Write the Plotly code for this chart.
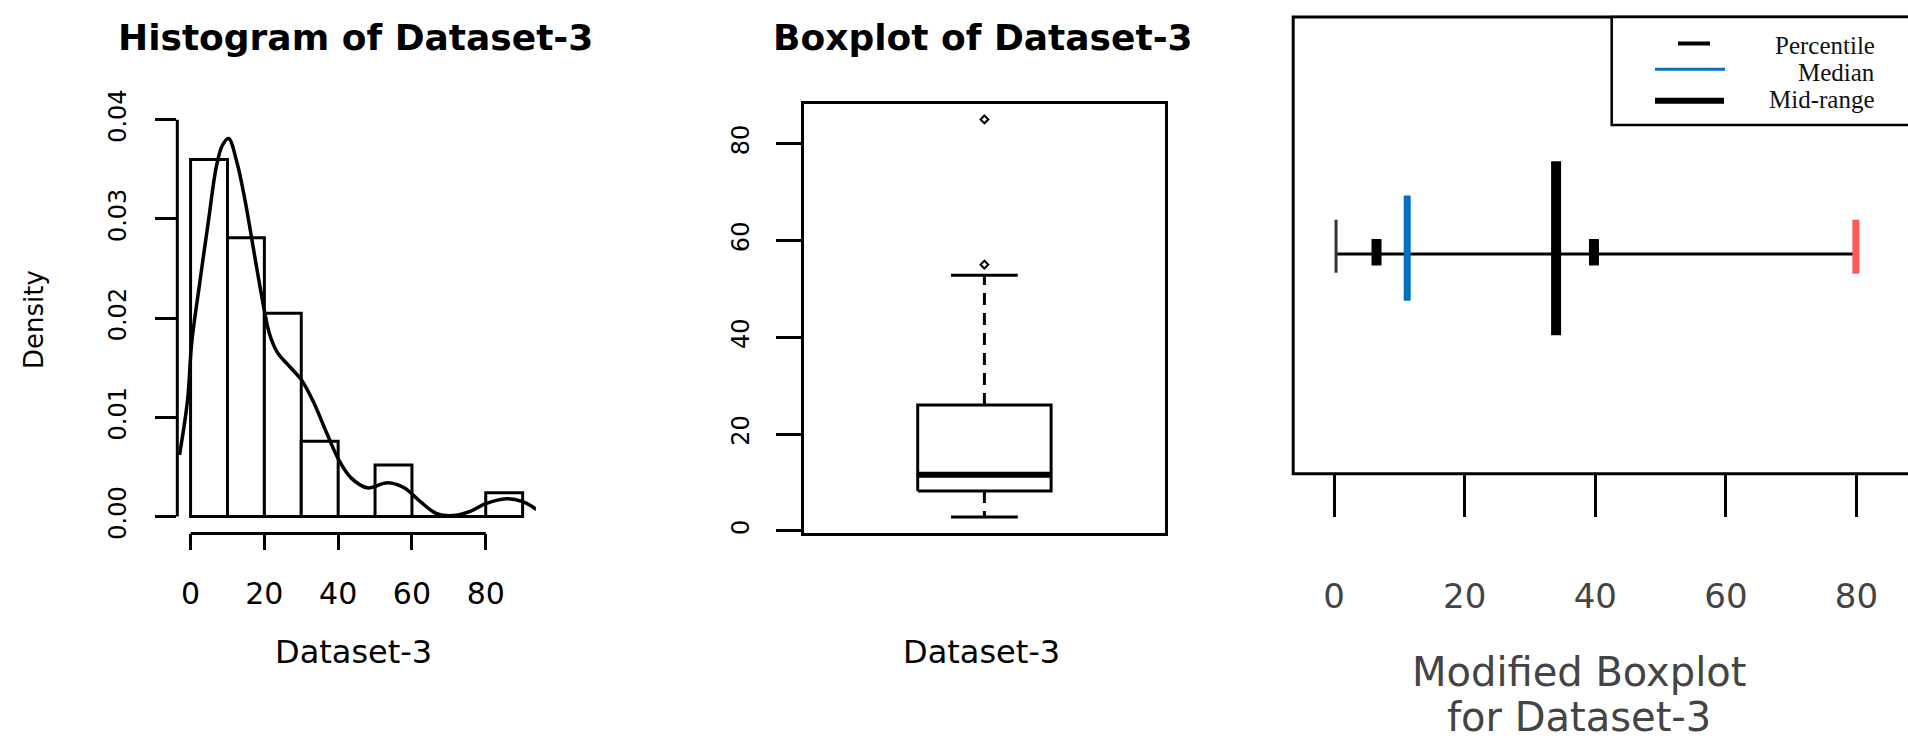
import plotly.graph_objects as go

W, H = 1908, 749

# ---------------- data ----------------
hist_bin_left = [0, 10, 20, 30, 40, 50, 60, 70, 80]
hist_density = [0.0360, 0.0281, 0.0205, 0.0076, 0.0, 0.0052, 0.0, 0.0, 0.0024]
hist_bin_width = 10

kde_x = [-3.0, -0.8, 0.3, 2.5, 4.8, 7.0, 8.6, 10.3, 12.5, 14.7, 16.9, 19.1, 21.4,
         23.6, 26.9, 30.2, 33.5, 36.8, 40.2, 43.5, 47.9, 53.4, 57.9, 62.3, 66.7,
         71.1, 75.6, 80.0, 85.5, 90.0, 93.8]
kde_y = [0.0062, 0.0118, 0.0175, 0.0236, 0.0297, 0.0353, 0.0374, 0.0381, 0.0358,
         0.0320, 0.0273, 0.0226, 0.0184, 0.0165, 0.0151, 0.0137, 0.0114, 0.0085,
         0.0057, 0.0039, 0.0029, 0.0034, 0.0029, 0.0015, 0.0003, 0.0001, 0.0005,
         0.0013, 0.0018, 0.0015, 0.0007]

hist_xticks = [0, 20, 40, 60, 80]
hist_yticks = [0.0, 0.01, 0.02, 0.03, 0.04]
hist_yticklabels = ["0.00", "0.01", "0.02", "0.03", "0.04"]

box_lower_whisker = 2.9
box_q1 = 8.25
box_median = 11.6
box_q3 = 26.0
box_upper_whisker = 52.8
box_outliers = [55.0, 85.0]
box_yticks = [0, 20, 40, 60, 80]

mod_min = 0.3
mod_percentiles = [6.5, 39.8]
mod_median = 11.2
mod_midrange = 34.0
mod_max = 79.9
mod_xticks = [0, 20, 40, 60, 80]
legend_labels = ["Percentile", "Median", "Mid-range"]

# ---------------- helpers ----------------
def px(x):
    return x / W


def py(y):
    return 1 - y / H


SANS = "DejaVu Sans"
SERIF = "Liberation Serif"
BLACK = "black"
GREY_TXT = "#444444"
BLUE = "#0070C0"
RED = "#FF5A5A"

fig = go.Figure()

# ---------------- panel 1 : histogram ----------------
fig.add_trace(go.Bar(
    x=[l + hist_bin_width / 2 for l in hist_bin_left], y=hist_density,
    width=hist_bin_width, marker=dict(color="white", line=dict(color=BLACK, width=3)),
    xaxis="x", yaxis="y", hoverinfo="skip"))
fig.add_trace(go.Scatter(
    x=kde_x, y=kde_y, mode="lines", line=dict(color=BLACK, width=3.5, shape="spline"),
    xaxis="x", yaxis="y", hoverinfo="skip"))

# ---------------- panel 2 : boxplot ----------------
bc, bh, sh = 1.0, 0.2, 0.1
fig.add_trace(go.Scatter(
    x=[bc - bh, bc + bh, bc + bh, bc - bh, bc - bh],
    y=[box_q1, box_q1, box_q3, box_q3, box_q1],
    mode="lines", line=dict(color=BLACK, width=3), xaxis="x2", yaxis="y2"))
fig.add_trace(go.Scatter(
    x=[bc - bh, bc + bh], y=[box_median, box_median],
    mode="lines", line=dict(color=BLACK, width=6), xaxis="x2", yaxis="y2"))
for a, b in [(box_q3, box_upper_whisker), (box_q1, box_lower_whisker)]:
    fig.add_trace(go.Scatter(
        x=[bc, bc], y=[a, b], mode="lines",
        line=dict(color=BLACK, width=3, dash="12px,8px"), xaxis="x2", yaxis="y2"))
    fig.add_trace(go.Scatter(
        x=[bc - sh, bc + sh], y=[b, b], mode="lines",
        line=dict(color=BLACK, width=3), xaxis="x2", yaxis="y2"))
fig.add_trace(go.Scatter(
    x=[bc] * len(box_outliers), y=box_outliers, mode="markers",
    marker=dict(symbol="diamond-open", size=6, color=BLACK, line=dict(width=2)),
    xaxis="x2", yaxis="y2"))

# ---------------- panel 3 : modified boxplot ----------------
yc = 0.481
fig.add_trace(go.Scatter(
    x=[mod_min, mod_max], y=[yc, yc], mode="lines",
    line=dict(color=BLACK, width=3), xaxis="x3", yaxis="y3"))
fig.add_trace(go.Scatter(
    x=[mod_min, mod_min], y=[0.440, 0.556], mode="lines",
    line=dict(color="#333333", width=3), xaxis="x3", yaxis="y3"))
for p in mod_percentiles:
    fig.add_trace(go.Scatter(
        x=[p, p], y=[0.456, 0.514], mode="lines",
        line=dict(color=BLACK, width=10), xaxis="x3", yaxis="y3"))
fig.add_trace(go.Scatter(
    x=[mod_median, mod_median], y=[0.379, 0.609], mode="lines",
    line=dict(color=BLUE, width=7), xaxis="x3", yaxis="y3"))
fig.add_trace(go.Scatter(
    x=[mod_midrange, mod_midrange], y=[0.303, 0.684], mode="lines",
    line=dict(color=BLACK, width=10), xaxis="x3", yaxis="y3"))
fig.add_trace(go.Scatter(
    x=[mod_max, mod_max], y=[0.438, 0.556], mode="lines",
    line=dict(color=RED, width=7), xaxis="x3", yaxis="y3"))

# ---------------- axes ----------------
ax_common = dict(showgrid=False, zeroline=False, fixedrange=True)
fig.update_layout(
    width=W, height=H, margin=dict(l=0, r=0, t=0, b=0),
    paper_bgcolor="white", plot_bgcolor="white", showlegend=False,
    font=dict(family=SANS, color=BLACK),
    xaxis=dict(domain=[px(177.3), px(535.9)], range=[-3.6, 93.6], anchor="y",
               tickvals=hist_xticks, ticks="outside", ticklen=16, tickwidth=3,
               tickcolor=BLACK, showline=False, ticklabelstandoff=18,
               tickfont=dict(family=SANS, size=30, color=BLACK), **ax_common),
    yaxis=dict(domain=[py(534.0), py(92.2)], range=[-0.0017, 0.0417], anchor="x",
               tickvals=hist_yticks, ticktext=hist_yticklabels, ticks="outside",
               ticklen=21, tickwidth=3, tickcolor=BLACK, tickangle=-90,
               showline=False, ticklabelstandoff=20,
               tickfont=dict(family=SANS, size=24, color=BLACK), **ax_common),
    xaxis2=dict(domain=[px(804.3), px(1164.5)], range=[0.46, 1.54], anchor="y2",
                showticklabels=False, ticks="", showline=True, mirror=True,
                linewidth=3, linecolor=BLACK, **ax_common),
    yaxis2=dict(domain=[py(533.9), py(93.3)], range=[-0.5, 88.2], anchor="x2",
                tickvals=box_yticks, ticks="outside", ticklen=25, tickwidth=3,
                tickcolor=BLACK, tickangle=-90, showline=True, mirror=True,
                linewidth=3, linecolor=BLACK, ticklabelstandoff=18,
                tickfont=dict(family=SANS, size=24, color=BLACK), **ax_common),
    xaxis3=dict(domain=[px(1293.2), 1.0], range=[-6.26, 87.89], anchor="y3",
                tickvals=mod_xticks, ticks="outside", ticklen=42, tickwidth=3,
                tickcolor=BLACK, showline=False, ticklabelstandoff=50,
                tickfont=dict(family=SANS, size=34, color=GREY_TXT), **ax_common),
    yaxis3=dict(domain=[py(472.8), py(4.0)], range=[0, 1], anchor="x3",
                visible=False, **ax_common),
)

shapes = [
    # histogram axis lines (R style, spanning tick range only)
    dict(type="line", xref="x", yref="y domain", x0=hist_xticks[0], x1=hist_xticks[-1],
         y0=0, y1=0, line=dict(color=BLACK, width=3)),
    dict(type="line", xref="x domain", yref="y", x0=0, x1=0, y0=hist_yticks[0],
         y1=hist_yticks[-1], line=dict(color=BLACK, width=3)),
    # modified boxplot frame
    dict(type="rect", xref="paper", yref="paper", x0=px(1293.2), x1=1.01,
         y0=py(472.8), y1=py(4.0), line=dict(color=BLACK, width=3)),
    # legend box
    dict(type="rect", xref="paper", yref="paper", x0=px(1611.7), x1=1.01,
         y0=py(115), y1=py(4.0), line=dict(color=BLACK, width=2.5), fillcolor="white",
         layer="above"),
    # legend symbols
    dict(type="line", xref="paper", yref="paper", x0=px(1678), x1=px(1710),
         y0=py(31.3), y1=py(31.3), line=dict(color=BLACK, width=4)),
    dict(type="line", xref="paper", yref="paper", x0=px(1655), x1=px(1725),
         y0=py(57.7), y1=py(57.7), line=dict(color=BLUE, width=3)),
    dict(type="line", xref="paper", yref="paper", x0=px(1655), x1=px(1724),
         y0=py(90), y1=py(90), line=dict(color=BLACK, width=6)),
]

annotations = [
    dict(text="<b>Histogram of Dataset-3</b>", x=px(355), y=py(25.5),
         font=dict(family=SANS, size=36, color=BLACK)),
    dict(text="<b>Boxplot of Dataset-3</b>", x=px(983), y=py(25.5),
         font=dict(family=SANS, size=36, color=BLACK)),
    dict(text="Density", x=px(34), y=py(315), textangle=-90,
         font=dict(family=SANS, size=26, color=BLACK)),
    dict(text="Dataset-3", x=px(353), y=py(656),
         font=dict(family=SANS, size=32, color=BLACK)),
    dict(text="Dataset-3", x=px(981.5), y=py(656),
         font=dict(family=SANS, size=32, color=BLACK)),
    dict(text="Modified Boxplot", x=px(1578.8), y=py(676),
         font=dict(family=SANS, size=40, color=GREY_TXT)),
    dict(text="for Dataset-3", x=px(1578.8), y=py(748), yanchor="bottom",
         font=dict(family=SANS, size=40, color=GREY_TXT)),
]
legend_y = [33, 61, 88.5]
for lab, ly in zip(legend_labels, legend_y):
    annotations.append(dict(text=lab, x=px(1876.7), y=py(ly), xanchor="right",
                            font=dict(family=SERIF, size=25, color="#111111")))
for a in annotations:
    a.setdefault("xref", "paper")
    a.setdefault("yref", "paper")
    a.setdefault("showarrow", False)
    a.setdefault("xanchor", "center")
    a.setdefault("yanchor", "middle")

fig.update_layout(shapes=shapes, annotations=annotations)
fig.write_html(
    "out.html",
    config={"displayModeBar": False, "staticPlot": True},
    post_script="document.body.style.margin='0';document.body.style.overflow='hidden';",
)
